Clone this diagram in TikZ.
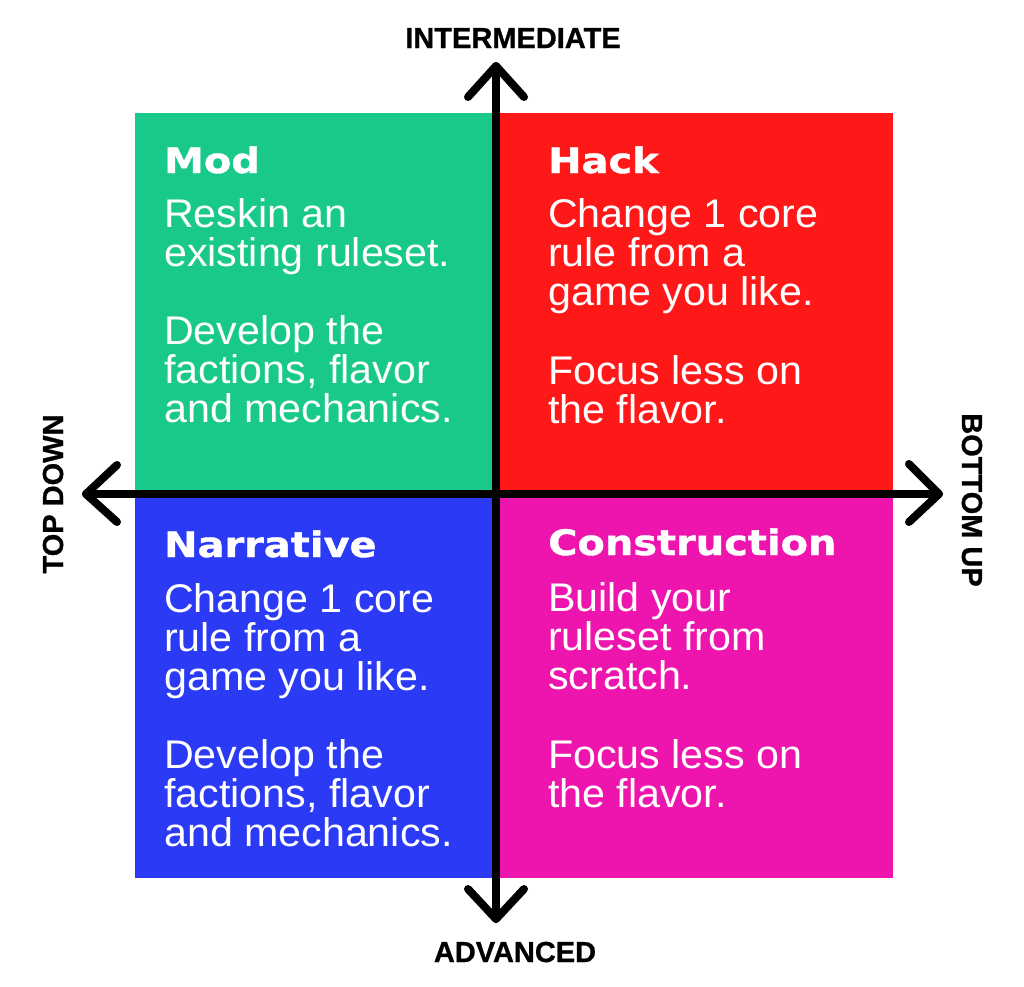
\documentclass[tikz,border=0pt]{standalone}
\usepackage{fontspec}
\setmainfont[FakeStretch=1.03]{Liberation Sans}
\newfontfamily\headfont[FakeStretch=1.14,FakeBold=1.2]{DejaVu Sans}
\newfontfamily\axisfont[FakeBold=0.8]{Liberation Sans}
\definecolor{qgreen}{RGB}{24,201,137}
\definecolor{qred}{RGB}{255,24,24}
\definecolor{qblue}{RGB}{42,58,245}
\definecolor{qmag}{RGB}{238,21,174}
\tikzset{
  axisline/.style={line width=8pt, line cap=round, line join=round, black},
  heading/.style={anchor=base west, inner sep=0pt, text=white, font=\headfont\bfseries\fontsize{35}{35}\selectfont},
  bodyline/.style={anchor=base west, inner sep=0pt, text=white, font=\fontsize{40}{39}\selectfont},
  axislabel/.style={anchor=base, inner sep=0pt, text=black, font=\axisfont\bfseries\fontsize{29}{29}\selectfont}
}
\begin{document}
\begin{tikzpicture}[x=1pt,y=-1pt]
\useasboundingbox (0,0) rectangle (1024,986);
\fill[white] (0,0) rectangle (1024,986);
% quadrants
\fill[qgreen] (135,113) rectangle (496,494);
\fill[qred] (496,113) rectangle (893,494);
\fill[qblue] (135,494) rectangle (496,878);
\fill[qmag] (496,494) rectangle (893,878);
% axes
\coordinate (axT) at (496,66);
\coordinate (axB) at (496,919);
\coordinate (axL) at (86,494);
\coordinate (axR) at (939,494);
\draw[axisline] (axT) -- (axB);
\draw[axisline] (axL) -- (axR);
\draw[axisline] ([shift={(-28,31)}]axT) -- (axT) -- ([shift={(28,31)}]axT);
\draw[axisline] ([shift={(-28,-30)}]axB) -- (axB) -- ([shift={(28,-30)}]axB);
\draw[axisline] ([shift={(31,-29)}]axL) -- (axL) -- ([shift={(31,28)}]axL);
\draw[axisline] ([shift={(-30,-30)}]axR) -- (axR) -- ([shift={(-30,28)}]axR);
% axis labels
\node[axislabel] (lInt) at (513,48) {INTERMEDIATE};
\node[axislabel] (lAdv) at (515,962) {ADVANCED};
\node[axislabel, rotate=90] (lTop) at (63,494) {TOP DOWN};
\node[axislabel, rotate=-90] (lBot) at (962,500) {BOTTOM UP};
% Mod
\node[heading] (hMod) at (164,173) {Mod};
\node[bodyline] (m1) at (164,227) {Reskin an};
\node[bodyline] (m2) at (164,266) {existing ruleset.};
\node[bodyline] (m3) at (164,344) {Develop the};
\node[bodyline] (m4) at (164,383) {factions, flavor};
\node[bodyline] (m5) at (164,422) {and mechanics.};
% Hack
\node[heading] (hHack) at (548,173) {Hack};
\node[bodyline] (h1) at (548,227) {Change 1 core};
\node[bodyline] (h2) at (548,266) {rule from a};
\node[bodyline] (h3) at (548,305) {game you like.};
\node[bodyline] (h4) at (548,384) {Focus less on};
\node[bodyline] (h5) at (548,423) {the flavor.};
% Narrative
\node[heading] (hNar) at (164,557) {Narrative};
\node[bodyline] (n1) at (164,612) {Change 1 core};
\node[bodyline] (n2) at (164,651) {rule from a};
\node[bodyline] (n3) at (164,690) {game you like.};
\node[bodyline] (n4) at (164,768) {Develop the};
\node[bodyline] (n5) at (164,807) {factions, flavor};
\node[bodyline] (n6) at (164,846) {and mechanics.};
% Construction
\node[heading] (hCon) at (548,555) {Construction};
\node[bodyline] (c1) at (548,611) {Build your};
\node[bodyline] (c2) at (548,650) {ruleset from};
\node[bodyline] (c3) at (548,689) {scratch.};
\node[bodyline] (c4) at (548,768) {Focus less on};
\node[bodyline] (c5) at (548,807) {the flavor.};
\end{tikzpicture}
\end{document}
